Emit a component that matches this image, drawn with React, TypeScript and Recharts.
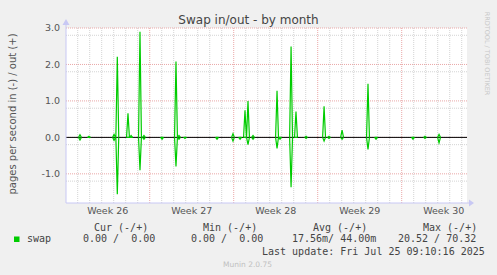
import React from 'react';
import { LineChart, Line, XAxis, YAxis, CartesianGrid, ReferenceLine } from 'recharts';

// days since the start of the month window (day 7 = start of week 27)
const spikeDays = [1.19, 1.94, 4.03, 4.3, 5.19, 5.45, 6.19, 6.52, 8.03, 9.19, 9.44, 9.94, 12.61, 13.94, 14.53, 14.94, 15.19, 15.61, 17.61, 17.86, 18.78, 19.19, 20.03, 21.53, 21.94, 23.03, 25.19, 25.86, 28.94, 29.94, 31.11];
const swapOut = [0.07, 0.03, 0.08, 2.21, 0.66, 0.05, 2.9, 0.05, 0.0, 2.08, 0.05, 0.0, 0.0, 0.1, 0.0, 0.74, 1.0, 0.05, 1.28, 0.0, 2.49, 0.71, 0.03, 0.85, 0.03, 0.2, 1.47, 0.0, 0.0, 0.03, 0.08];
const swapIn = [0.07, 0.0, 0.08, 1.56, 0.0, 0.0, 0.9, 0.05, 0.05, 0.8, 0.05, 0.03, 0.05, 0.1, 0.05, 0.0, 0.2, 0.05, 0.3, 0.05, 1.37, 0.0, 0.03, 0.1, 0.03, 0.05, 0.33, 0.05, 0.05, 0.03, 0.15];

const weekTicks = [3.5, 10.5, 17.5, 24.5, 31.5];
const weekLabels = ['Week 26', 'Week 27', 'Week 28', 'Week 29', 'Week 30'];
const yTicks = [-1, 0, 1, 2, 3];

const X_START = 0.025;
const X_END = 33.44;

// zero stretches between spikes are left as gaps so the black zero rule shows through
const data: { day: number; out: number | null; inn: number | null }[] = [];
spikeDays.forEach((d, i) => {
  data.push({ day: d - 0.12, out: 0, inn: 0 });
  data.push({ day: d, out: swapOut[i], inn: -swapIn[i] });
  data.push({ day: d + 0.12, out: 0, inn: 0 });
  data.push({ day: d + 0.13, out: null, inn: null });
});

const minorX: number[] = [];
for (let d = 1; d <= 33; d++) if (d % 7 !== 0) minorX.push(d);
const majorX = [7, 14, 21, 28];
const minorY: number[] = [];
for (let i = -9; i <= 15; i++) if (i % 5 !== 0) minorY.push(i / 5);
const majorY = [-1, 0, 1, 2, 3];

const sans = 'DejaVu Sans, sans-serif';
const mono = 'DejaVu Sans Mono, monospace';
const axisColor = '#c8c8f4';

export default function App() {
  return (
    <div style={{ position: 'absolute', left: 0, top: 0, width: 497, height: 275, background: '#f0f0f0', overflow: 'hidden' }}>
      <LineChart width={497} height={275} data={data} margin={{ top: 28, right: 30, bottom: 0, left: 0 }}>
        <CartesianGrid fill="#ffffff" stroke="#d4d4d4" strokeDasharray="1 1" horizontalValues={minorY} verticalValues={minorX} />
        <CartesianGrid stroke="#eaa8a8" strokeDasharray="1 1" horizontalValues={majorY} verticalValues={majorX} />
        <XAxis
          dataKey="day"
          type="number"
          domain={[X_START, X_END]}
          ticks={weekTicks}
          tickFormatter={(v: number) => weekLabels[weekTicks.indexOf(v)] ?? ''}
          tickLine={false}
          tickSize={0}
          tickMargin={4}
          height={72}
          axisLine={{ stroke: axisColor }}
          tick={{ fill: '#555', fontSize: 9.5, fontFamily: sans }}
          allowDataOverflow
        />
        <YAxis
          type="number"
          domain={[-1.8, 3.0]}
          ticks={yTicks}
          tickFormatter={(v: number) => v.toFixed(1)}
          tickLine={false}
          tickSize={0}
          tickMargin={6}
          width={66}
          axisLine={{ stroke: axisColor }}
          tick={{ fill: '#555', fontSize: 9.5, fontFamily: sans }}
          allowDataOverflow
        />
        <ReferenceLine y={0} stroke="#000000" strokeWidth={1} />
        <Line type="linear" dataKey="out" stroke="#00cc00" strokeWidth={1.2} dot={false} connectNulls={false} isAnimationActive={false} />
        <Line type="linear" dataKey="inn" stroke="#00cc00" strokeWidth={1.2} dot={false} connectNulls={false} isAnimationActive={false} />
      </LineChart>
      <svg width={497} height={275} style={{ position: 'absolute', left: 0, top: 0, pointerEvents: 'none' }}>
        <line x1={66} y1={28} x2={66} y2={22} stroke={axisColor} />
        <polygon points="62.5,25 69.5,25 66,19" fill={axisColor} />
        <line x1={467} y1={203} x2={470} y2={203} stroke={axisColor} />
        <polygon points="469,199.5 469,206.5 474,203" fill={axisColor} />
        <text x={248.5} y={24} textAnchor="middle" fontFamily={sans} fontSize={12} fill="#444">
          Swap in/out - by month
        </text>
        <text x={16} y={114} transform="rotate(-90 16 114)" textAnchor="middle" fontFamily={sans} fontSize={10} fill="#555">
          pages per second in (-) / out (+)
        </text>
        <text x={485} y={53.5} transform="rotate(90 485 53.5)" textAnchor="middle" fontFamily={sans} fontSize={6.5} fill="#c8c8c8">
          RRDTOOL / TOBI OETIKER
        </text>
        <g fontFamily={mono} fontSize={10} fill="#444">
          <text x={94} y={231}>Cur (-/+)</text>
          <text x={203} y={231}>Min (-/+)</text>
          <text x={313} y={231}>Avg (-/+)</text>
          <text x={423} y={231}>Max (-/+)</text>
          <text x={27} y={242}>swap</text>
          <text x={83} y={242} xmlSpace="preserve">{'0.00 /  0.00'}</text>
          <text x={191} y={242} xmlSpace="preserve">{'0.00 /  0.00'}</text>
          <text x={292} y={242} xmlSpace="preserve">{'17.56m/ 44.00m'}</text>
          <text x={398} y={242} xmlSpace="preserve">{'20.52 / 70.32'}</text>
          <text x={262} y={255}>Last update: Fri Jul 25 09:10:16 2025</text>
        </g>
        <rect x={14} y={236.5} width={5.5} height={5.5} fill="#00cc00" />
        <text x={247.5} y={267} textAnchor="middle" fontFamily={sans} fontSize={7.5} fill="#c0c0c0">
          Munin 2.0.75
        </text>
      </svg>
    </div>
  );
}
